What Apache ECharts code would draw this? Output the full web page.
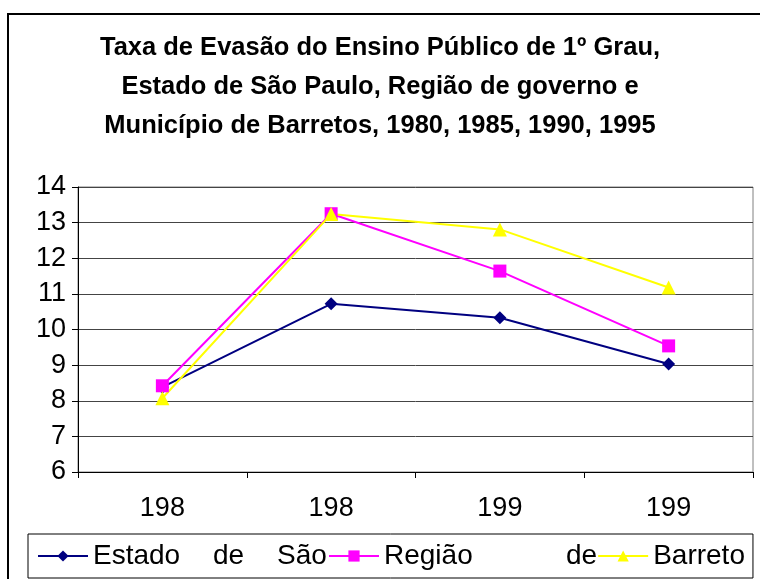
<!DOCTYPE html>
<html>
<head>
<meta charset="utf-8">
<script src="https://cdn.jsdelivr.net/npm/echarts@6/dist/echarts.min.js"></script>
<style>
html,body{margin:0;padding:0;background:#fff;}
#chart{width:760px;height:579px;}
</style>
</head>
<body>
<div id="chart"></div>
<script>
var titleText = 'Taxa de Evasão do Ensino Público de 1º Grau,\nEstado de São Paulo, Região de governo e\nMunicípio de Barretos, 1980, 1985, 1990, 1995';
var categories = ['1980', '1985', '1990', '1995'];
var tickLabels = ['198', '198', '199', '199'];
var seriesNames = ['Estado de São Paulo', 'Região de governo', 'Barretos'];
var estado = [8.38, 10.72, 10.33, 9.03];
var regiao = [8.42, 13.25, 11.64, 9.54];
var barretos = [8.07, 13.24, 12.81, 11.18];

var chart = echarts.init(document.getElementById('chart'), null, {renderer: 'canvas'});
var FONT = '"Liberation Sans", Arial, sans-serif';

var legendLabels = {};
legendLabels[seriesNames[0]] = '{a1|Estado}{a2|de}{a3|São}';
legendLabels[seriesNames[1]] = '{b1|Região}{b2|de}';
legendLabels[seriesNames[2]] = '{c1|Barreto}';

var option = {
  backgroundColor: '#ffffff',
  animation: false,
  graphic: [{
    type: 'rect',
    shape: {x: 8, y: 14, width: 800, height: 700},
    style: {fill: null, stroke: '#000', lineWidth: 2},
    silent: true
  }],
  title: {
    text: titleText,
    left: 'center',
    top: 28,
    padding: 0,
    textStyle: {
      fontFamily: FONT,
      fontWeight: 'bold',
      fontSize: 25.5,
      lineHeight: 39,
      color: '#000'
    }
  },
  grid: {
    left: 78, right: 7, top: 187, bottom: 107,
    show: true,
    borderColor: '#808080',
    borderWidth: 1,
    containLabel: false
  },
  xAxis: {
    type: 'category',
    data: categories,
    boundaryGap: true,
    axisLine: {lineStyle: {color: '#000', width: 1}},
    axisTick: {show: true, length: 6, lineStyle: {color: '#000'}},
    axisLabel: {
      margin: 23,
      fontFamily: FONT,
      fontSize: 27,
      color: '#000',
      formatter: function (v, i) { return tickLabels[i]; }
    },
    splitLine: {show: false}
  },
  yAxis: {
    type: 'value',
    min: 6, max: 14, interval: 1,
    axisLine: {show: true, lineStyle: {color: '#000', width: 1}},
    axisTick: {show: true, length: 6, lineStyle: {color: '#000'}},
    axisLabel: {
      margin: 12,
      fontFamily: FONT,
      fontSize: 27,
      color: '#000'
    },
    splitLine: {show: true, lineStyle: {color: '#444', width: 1}}
  },
  legend: {
    top: 534,
    left: 28,
    orient: 'horizontal',
    itemWidth: 50,
    itemHeight: 14,
    itemGap: 0,
    padding: [8, 8, 8, 9],
    borderColor: '#000',
    borderWidth: 1,
    data: seriesNames,
    formatter: function (name) { return legendLabels[name]; },
    textStyle: {
      fontFamily: FONT,
      fontSize: 28,
      color: '#000',
      lineHeight: 28,
      rich: {
        a1: {fontFamily: FONT, fontSize: 28, width: 120},
        a2: {fontFamily: FONT, fontSize: 28, width: 64},
        a3: {fontFamily: FONT, fontSize: 28, width: 51},
        b1: {fontFamily: FONT, fontSize: 28, width: 182},
        b2: {fontFamily: FONT, fontSize: 28, width: 30},
        c1: {fontFamily: FONT, fontSize: 28}
      }
    }
  },
  series: [
    {
      name: seriesNames[0], type: 'line', data: estado,
      symbol: 'diamond', symbolSize: 13,
      lineStyle: {color: '#000080', width: 2},
      itemStyle: {color: '#000080'}
    },
    {
      name: seriesNames[1], type: 'line', data: regiao,
      symbol: 'rect', symbolSize: 13,
      lineStyle: {color: '#FF00FF', width: 2},
      itemStyle: {color: '#FF00FF'}
    },
    {
      name: seriesNames[2], type: 'line', data: barretos,
      symbol: 'triangle', symbolSize: 14,
      lineStyle: {color: '#FFFF00', width: 2},
      itemStyle: {color: '#FFFF00'}
    }
  ]
};
chart.setOption(option);
</script>
</body>
</html>
